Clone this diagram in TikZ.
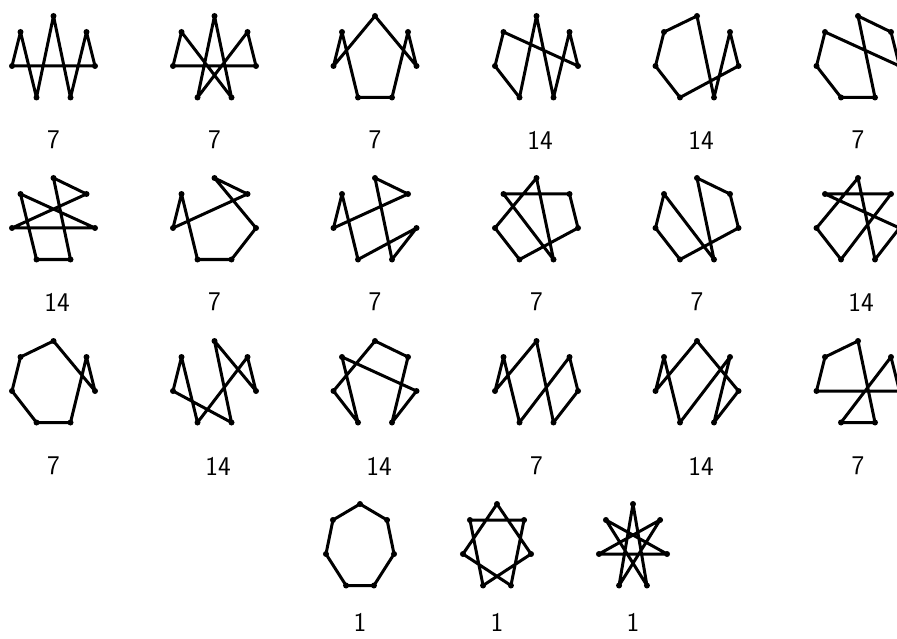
\documentclass[tikz,border=0pt]{standalone}
\usepackage{tikz}
\usetikzlibrary{positioning}
% corners of one drawn heptagon, named #2-0 (top) to #2-6, clockwise
\newcommand{\heptacorners}[4][1]{%
  \begin{scope}[shift={(#3,#4)}, xscale=#1]
    \coordinate (#2-0) at (0,-43);
    \coordinate (#2-1) at (33,-27);
    \coordinate (#2-2) at (41.5,7);
    \coordinate (#2-3) at (17,38.5);
    \coordinate (#2-4) at (-17,38.5);
    \coordinate (#2-5) at (-41.5,7);
    \coordinate (#2-6) at (-33,-27);
  \end{scope}
  \fill (#2-0) circle (3pt) (#2-1) circle (3pt) (#2-2) circle (3pt)
        (#2-3) circle (3pt) (#2-4) circle (3pt) (#2-5) circle (3pt)
        (#2-6) circle (3pt);
}

\begin{document}
\begin{tikzpicture}[
    x=1pt, y=-1pt,
    walk/.style={line width=3pt, line join=round, line cap=round, draw=black},
    count/.style={font=\sffamily\fontsize{27}{30}\selectfont, text=black}
]
    \useasboundingbox (0,0) rectangle (897,639);
    \clip (0,0) rectangle (897,639);
    \fill[white] (0,0) rectangle (897,639);

    % first row
    \heptacorners{w1}{53.5}{59}
    \draw[walk] (w1-5) -- (w1-6) -- (w1-4) -- (w1-0) -- (w1-3) -- (w1-1) -- (w1-2) -- cycle;
    \node[count] (w1-count) at (53.5,140) {7};

    \heptacorners{w2}{214.5}{59}
    \draw[walk] (w2-5) -- (w2-6) -- (w2-3) -- (w2-0) -- (w2-4) -- (w2-1) -- (w2-2) -- cycle;
    \node[count] (w2-count) at (214.5,140) {7};

    \heptacorners{w3}{375}{59}
    \draw[walk] (w3-0) -- (w3-5) -- (w3-6) -- (w3-4) -- (w3-3) -- (w3-1) -- (w3-2) -- cycle;
    \node[count] (w3-count) at (375,140) {7};

    \heptacorners{w4}{536.5}{59}
    \draw[walk] (w4-6) -- (w4-5) -- (w4-4) -- (w4-0) -- (w4-3) -- (w4-1) -- (w4-2) -- cycle;
    \node[count] (w4-count) at (540,140) {14};

    \heptacorners{w5}{697}{59}
    \draw[walk] (w5-0) -- (w5-6) -- (w5-5) -- (w5-4) -- (w5-2) -- (w5-1) -- (w5-3) -- cycle;
    \node[count] (w5-count) at (701,140) {14};

    \heptacorners{w6}{858}{59}
    \draw[walk] (w6-0) -- (w6-1) -- (w6-2) -- (w6-6) -- (w6-5) -- (w6-4) -- (w6-3) -- cycle;
    \node[count] (w6-count) at (858,140) {7};

    % second row
    \heptacorners{w7}{53.5}{221}
    \draw[walk] (w7-0) -- (w7-1) -- (w7-5) -- (w7-2) -- (w7-6) -- (w7-4) -- (w7-3) -- cycle;
    \node[count] (w7-count) at (57,302) {14};

    \heptacorners{w8}{214.5}{221}
    \draw[walk] (w8-5) -- (w8-6) -- (w8-4) -- (w8-3) -- (w8-2) -- (w8-0) -- (w8-1) -- cycle;
    \node[count] (w8-count) at (214.5,302) {7};

    \heptacorners{w9}{375}{221}
    \draw[walk] (w9-5) -- (w9-6) -- (w9-4) -- (w9-2) -- (w9-3) -- (w9-0) -- (w9-1) -- cycle;
    \node[count] (w9-count) at (375,302) {7};

    \heptacorners{w10}{536.5}{221}
    \draw[walk] (w10-6) -- (w10-1) -- (w10-2) -- (w10-4) -- (w10-5) -- (w10-0) -- (w10-3) -- cycle;
    \node[count] (w10-count) at (536.5,302) {7};

    \heptacorners{w11}{697}{221}
    \draw[walk] (w11-0) -- (w11-1) -- (w11-2) -- (w11-4) -- (w11-5) -- (w11-6) -- (w11-3) -- cycle;
    \node[count] (w11-count) at (697,302) {7};

    \heptacorners{w12}{858}{221}
    \draw[walk] (w12-0) -- (w12-5) -- (w12-4) -- (w12-1) -- (w12-6) -- (w12-2) -- (w12-3) -- cycle;
    \node[count] (w12-count) at (861,302) {14};

    % third row
    \heptacorners{w13}{53.5}{384}
    \draw[walk] (w13-0) -- (w13-6) -- (w13-5) -- (w13-4) -- (w13-3) -- (w13-1) -- (w13-2) -- cycle;
    \node[count] (w13-count) at (53.5,466) {7};

    \heptacorners{w14}{214.5}{384}
    \draw[walk] (w14-0) -- (w14-2) -- (w14-1) -- (w14-4) -- (w14-6) -- (w14-5) -- (w14-3) -- cycle;
    \node[count] (w14-count) at (218,466) {14};

    \heptacorners{w15}{375}{384}
    \draw[walk] (w15-0) -- (w15-1) -- (w15-3) -- (w15-2) -- (w15-6) -- (w15-4) -- (w15-5) -- cycle;
    \node[count] (w15-count) at (379,466) {14};

    \heptacorners{w16}{536.5}{384}
    \draw[walk] (w16-0) -- (w16-5) -- (w16-6) -- (w16-4) -- (w16-1) -- (w16-2) -- (w16-3) -- cycle;
    \node[count] (w16-count) at (536.5,466) {7};

    \heptacorners{w17}{697}{384}
    \draw[walk] (w17-0) -- (w17-5) -- (w17-6) -- (w17-4) -- (w17-1) -- (w17-3) -- (w17-2) -- cycle;
    \node[count] (w17-count) at (701,466) {14};

    \heptacorners{w18}{858}{384}
    \draw[walk] (w18-0) -- (w18-6) -- (w18-5) -- (w18-2) -- (w18-1) -- (w18-4) -- (w18-3) -- cycle;
    \node[count] (w18-count) at (858,466) {7};

    % last row: the regular ones
    \heptacorners[0.82]{w19}{360}{547}
    \draw[walk] (w19-0) -- (w19-1) -- (w19-2) -- (w19-3) -- (w19-4) -- (w19-5) -- (w19-6) -- cycle;
    \node[count] (w19-count) at (360,622) {1};

    \heptacorners[0.82]{w20}{497}{547}
    \draw[walk] (w20-0) -- (w20-2) -- (w20-4) -- (w20-6) -- (w20-1) -- (w20-3) -- (w20-5) -- cycle;
    \node[count] (w20-count) at (497,622) {1};

    \heptacorners[0.82]{w21}{633}{547}
    \draw[walk] (w21-0) -- (w21-3) -- (w21-6) -- (w21-2) -- (w21-5) -- (w21-1) -- (w21-4) -- cycle;
    \node[count] (w21-count) at (633,622) {1};
\end{tikzpicture}
\end{document}
